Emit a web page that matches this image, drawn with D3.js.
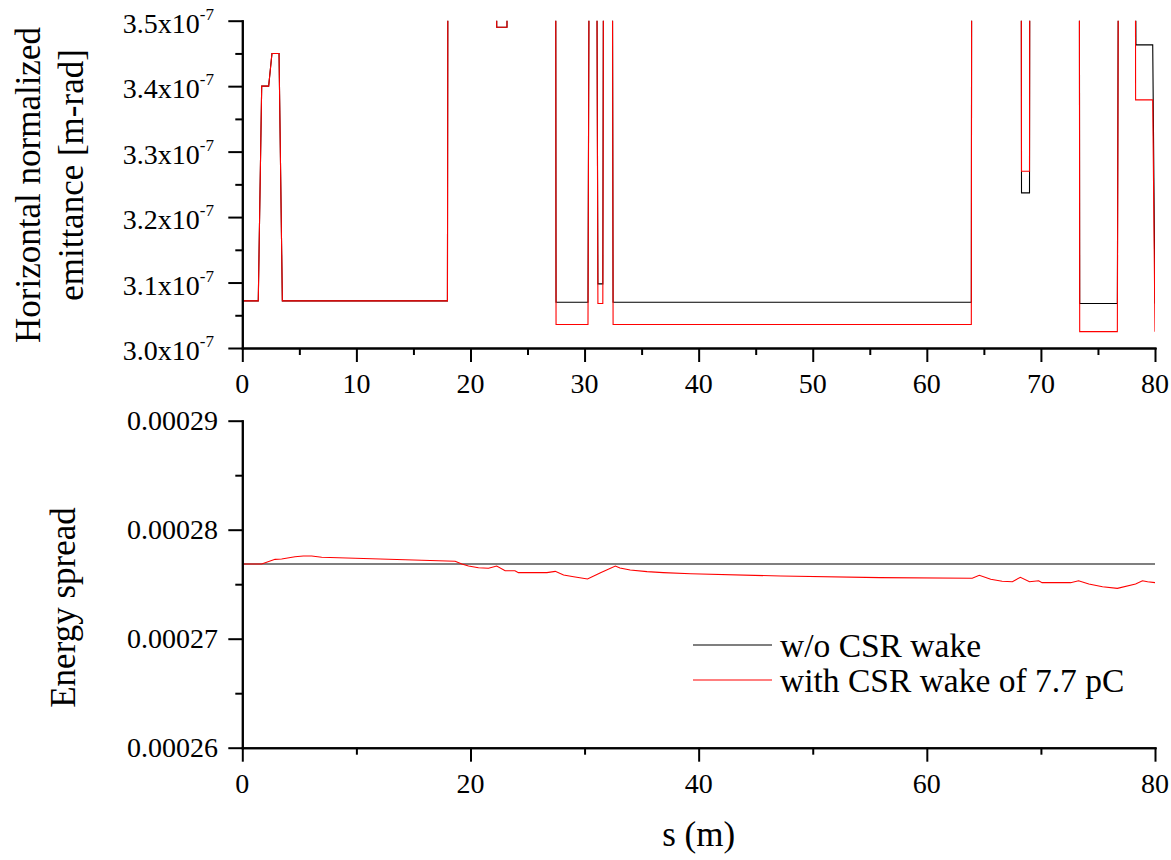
<!DOCTYPE html>
<html><head><meta charset="utf-8">
<script src="https://cdn.jsdelivr.net/npm/d3@7"></script>
<style>
body{margin:0;background:#fff}
svg{display:block}
text{font-family:"Liberation Serif","Times New Roman",serif;fill:#000}
</style>
</head><body>
<svg id="c" width="1171" height="860"></svg>
<script>
// ---------- DATA ----------
// Horizontal normalized emittance [m-rad]; values above 3.5e-7 are off-scale (clipped)
const sEmitNoCSR = [0, 1.40, 1.70, 2.31, 2.60, 3.22, 3.51, 17.98, 18.05, 22.25, 22.30, 23.20, 23.25, 27.45, 27.50, 30.30, 30.47, 31.00, 31.17, 31.60, 31.70, 32.40, 32.50, 63.90, 63.95, 68.25, 68.30, 69.00, 69.05, 73.35, 73.40, 76.70, 76.85, 78.20, 78.33, 79.80, 80.00];
const emitNoCSR  = [3.072e-7, 3.072e-7, 3.400e-7, 3.400e-7, 3.450e-7, 3.450e-7, 3.072e-7, 3.072e-7, 4.0e-7, 4.0e-7, 3.49e-7, 3.49e-7, 4.0e-7, 4.0e-7, 3.070e-7, 3.070e-7, 4.0e-7, 4.0e-7, 3.098e-7, 3.098e-7, 4.0e-7, 4.0e-7, 3.070e-7, 3.070e-7, 4.0e-7, 4.0e-7, 3.237e-7, 3.237e-7, 4.0e-7, 4.0e-7, 3.068e-7, 3.068e-7, 4.0e-7, 4.0e-7, 3.463e-7, 3.463e-7, 3.068e-7];
const sEmitCSR   = [0, 1.40, 1.70, 2.31, 2.60, 3.22, 3.51, 17.98, 18.05, 22.25, 22.30, 23.20, 23.25, 27.45, 27.50, 30.30, 30.47, 31.00, 31.17, 31.60, 31.70, 32.40, 32.50, 63.90, 63.95, 68.25, 68.30, 69.00, 69.05, 73.35, 73.40, 76.70, 76.85, 78.25, 78.30, 79.80, 80.00];
const emitCSR    = [3.072e-7, 3.072e-7, 3.400e-7, 3.400e-7, 3.450e-7, 3.450e-7, 3.072e-7, 3.072e-7, 4.0e-7, 4.0e-7, 3.49e-7, 3.49e-7, 4.0e-7, 4.0e-7, 3.036e-7, 3.036e-7, 4.0e-7, 4.0e-7, 3.068e-7, 3.068e-7, 4.0e-7, 4.0e-7, 3.036e-7, 3.036e-7, 4.0e-7, 4.0e-7, 3.270e-7, 3.270e-7, 4.0e-7, 4.0e-7, 3.025e-7, 3.025e-7, 4.0e-7, 4.0e-7, 3.379e-7, 3.379e-7, 3.025e-7];

// Energy spread
const sEnergyNoCSR = [0, 20, 40, 60, 80];
const energyNoCSR  = [2.7685e-4, 2.7685e-4, 2.7685e-4, 2.7685e-4, 2.7685e-4];
const sEnergyCSR = [0, 1.70, 2.87, 3.45, 4.62, 5.35, 6.08, 6.96, 18.66, 19.24, 19.83, 20.70, 21.58, 22.30, 23.04, 23.90, 24.20, 26.70, 27.43, 28.16, 29.04, 30.26, 31.40, 32.70, 33.10, 34.00, 35.47, 36.90, 39.30, 47.20, 55.90, 63.98, 64.60, 65.60, 66.60, 67.50, 68.20, 69.00, 69.80, 70.10, 72.60, 73.30, 74.20, 75.40, 76.70, 78.30, 78.90, 79.35, 80.00];
const energyCSR  = [2.7685e-4, 2.7685e-4, 2.7728e-4, 2.7731e-4, 2.7752e-4, 2.7759e-4, 2.7759e-4, 2.7747e-4, 2.7710e-4, 2.7685e-4, 2.7667e-4, 2.7651e-4, 2.7646e-4, 2.7667e-4, 2.7624e-4, 2.7624e-4, 2.7606e-4, 2.7606e-4, 2.7618e-4, 2.7584e-4, 2.7569e-4, 2.7548e-4, 2.7606e-4, 2.7667e-4, 2.7649e-4, 2.7630e-4, 2.7615e-4, 2.7606e-4, 2.7596e-4, 2.7575e-4, 2.7560e-4, 2.7554e-4, 2.7582e-4, 2.7545e-4, 2.7527e-4, 2.7523e-4, 2.7563e-4, 2.7523e-4, 2.7532e-4, 2.7514e-4, 2.7514e-4, 2.7532e-4, 2.7502e-4, 2.7477e-4, 2.7462e-4, 2.7502e-4, 2.7532e-4, 2.7523e-4, 2.7514e-4];

// Ticks / labels
const topXMajor = [0, 10, 20, 30, 40, 50, 60, 70, 80];
const topXMinor = [5, 15, 25, 35, 45, 55, 65, 75];
const emitMajor = [3.0e-7, 3.1e-7, 3.2e-7, 3.3e-7, 3.4e-7, 3.5e-7];
const emitMinor = [3.05e-7, 3.15e-7, 3.25e-7, 3.35e-7, 3.45e-7];
const emitLabels = ["3.0x10", "3.1x10", "3.2x10", "3.3x10", "3.4x10", "3.5x10"];
const emitExp = "-7";
const botXMajor = [0, 20, 40, 60, 80];
const botXMinor = [10, 30, 50, 70];
const energyMajor = [2.6e-4, 2.7e-4, 2.8e-4, 2.9e-4];
const energyMinor = [2.65e-4, 2.75e-4, 2.85e-4];
const energyLabels = ["0.00026", "0.00027", "0.00028", "0.00029"];
const legendLabels = ["w/o CSR wake", "with CSR wake of 7.7 pC"];
const seriesColors = ["#000000", "#ff0000"];

// ---------- LAYOUT ----------
const svg = d3.select("#c");
svg.append("rect").attr("width", 1171).attr("height", 860).attr("fill", "#fff");
const X0 = 242.3, X1 = 1155;
const x = d3.scaleLinear().domain([0, 80]).range([X0, X1]);
const yTop = d3.scaleLinear().domain([3.0e-7, 3.5e-7]).range([348, 20.7]);
const yBot = d3.scaleLinear().domain([2.6e-4, 2.9e-4]).range([747.7, 420.7]);

const defs = svg.append("defs");
defs.append("clipPath").attr("id", "clipTop").append("rect")
  .attr("x", X0).attr("y", yTop.range()[1]).attr("width", X1 - X0).attr("height", yTop.range()[0] - yTop.range()[1]);
defs.append("clipPath").attr("id", "clipBot").append("rect")
  .attr("x", X0).attr("y", yBot.range()[1]).attr("width", X1 - X0).attr("height", yBot.range()[0] - yBot.range()[1]);

function series(sArr, vArr) { return sArr.map((s, i) => [s, vArr[i]]); }

function drawLine(clip, yS, data, color) {
  const line = d3.line().x(d => x(d[0])).y(d => yS(d[1]));
  svg.append("path").attr("clip-path", "url(#" + clip + ")")
    .attr("d", line(data)).attr("fill", "none").attr("stroke", color)
    .attr("stroke-width", 1.1).attr("stroke-linejoin", "miter");
}

function styleAxis(g) {
  g.select(".domain").attr("stroke", "#000").attr("stroke-width", 2).attr("stroke-linecap", "square");
  g.selectAll(".tick line").attr("stroke", "#000").attr("stroke-width", 2);
  g.selectAll(".tick text").remove();
}

function axes(yS, xMajor, xMinor, yMajor, yMinor) {
  const yb = yS.range()[0];
  const gxMin = svg.append("g").attr("transform", `translate(0,${yb})`)
    .call(d3.axisBottom(x).tickValues(xMinor).tickSize(7).tickSizeOuter(0));
  styleAxis(gxMin);
  const gx = svg.append("g").attr("transform", `translate(0,${yb})`)
    .call(d3.axisBottom(x).tickValues(xMajor).tickSize(14).tickSizeOuter(0));
  styleAxis(gx);
  const gyMin = svg.append("g").attr("transform", `translate(${X0},0)`)
    .call(d3.axisLeft(yS).tickValues(yMinor).tickSize(7).tickSizeOuter(0));
  styleAxis(gyMin);
  const gy = svg.append("g").attr("transform", `translate(${X0},0)`)
    .call(d3.axisLeft(yS).tickValues(yMajor).tickSize(14).tickSizeOuter(0));
  styleAxis(gy);
}

// ---------- TOP PANEL ----------
drawLine("clipTop", yTop, series(sEmitNoCSR, emitNoCSR), seriesColors[0]);
drawLine("clipTop", yTop, series(sEmitCSR, emitCSR), seriesColors[1]);
axes(yTop, topXMajor, topXMinor, emitMajor, emitMinor);

svg.append("g").selectAll("text").data(topXMajor).join("text")
  .attr("x", d => x(d)).attr("y", yTop.range()[0] + 45)
  .attr("text-anchor", "middle").attr("font-size", 28).text(d => d);

const eLab = svg.append("g").selectAll("text").data(emitMajor).join("text")
  .attr("x", 214).attr("y", d => yTop(d) + 12)
  .attr("text-anchor", "end").attr("font-size", 28);
eLab.append("tspan").text((d, i) => emitLabels[i]);
eLab.append("tspan").attr("font-size", 17).attr("dy", -13).text(emitExp);

svg.append("text").attr("font-size", 35).attr("text-anchor", "middle")
  .attr("transform", "translate(40,185) rotate(-90)").text("Horizontal normalized");
svg.append("text").attr("font-size", 35).attr("text-anchor", "middle")
  .attr("transform", "translate(83,175) rotate(-90)").text("emittance [m-rad]");

// ---------- BOTTOM PANEL ----------
drawLine("clipBot", yBot, series(sEnergyNoCSR, energyNoCSR), seriesColors[0]);
drawLine("clipBot", yBot, series(sEnergyCSR, energyCSR), seriesColors[1]);
axes(yBot, botXMajor, botXMinor, energyMajor, energyMinor);

svg.append("g").selectAll("text").data(botXMajor).join("text")
  .attr("x", d => x(d)).attr("y", yBot.range()[0] + 45)
  .attr("text-anchor", "middle").attr("font-size", 28).text(d => d);

svg.append("g").selectAll("text").data(energyMajor).join("text")
  .attr("x", 218).attr("y", d => yBot(d) + 9.5)
  .attr("text-anchor", "end").attr("font-size", 28).text((d, i) => energyLabels[i]);

svg.append("text").attr("font-size", 35).attr("text-anchor", "middle")
  .attr("transform", "translate(75,607.5) rotate(-90)").text("Energy spread");

svg.append("text").attr("font-size", 35).attr("text-anchor", "middle")
  .attr("x", (X0 + X1) / 2).attr("y", 846).text("s (m)");

// ---------- LEGEND ----------
const leg = svg.append("g");
legendLabels.forEach((lab, i) => {
  const ly = 645 + i * 35;
  leg.append("line").attr("x1", 693).attr("x2", 772).attr("y1", ly).attr("y2", ly)
    .attr("stroke", seriesColors[i]).attr("stroke-width", 1.2);
  leg.append("text").attr("x", 780).attr("y", ly + 11.5).attr("font-size", 33.5).text(lab);
});
</script>
</body></html>
